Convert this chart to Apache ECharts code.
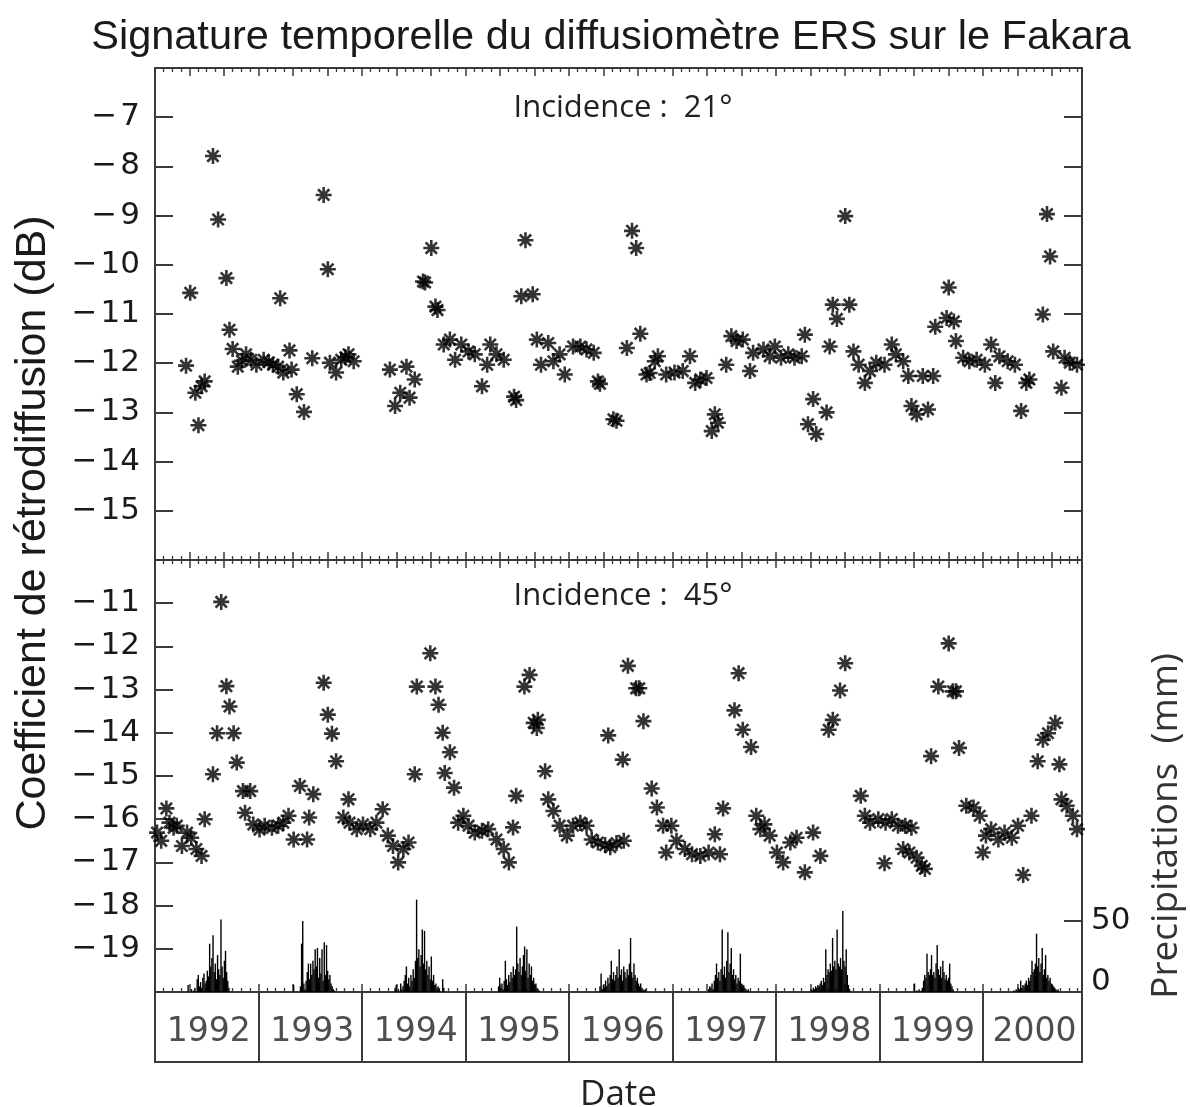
<!DOCTYPE html>
<html>
<head>
<meta charset="utf-8">
<title>Signature temporelle du diffusiomètre ERS sur le Fakara</title>
<script src="https://cdn.jsdelivr.net/npm/echarts@6/dist/echarts.min.js"></script>
<style>
  html, body { margin: 0; padding: 0; background: #fff; }
  #chart { width: 1190px; height: 1107px; }
</style>
</head>
<body>
<div id="chart"></div>
<script>
// ERS scatterometer backscatter over Fakara, [decimal year, dB]
const sigma21 = [
  [1992.30,-12.05],[1992.34,-10.57],[1992.39,-12.60],[1992.42,-13.26],[1992.45,-12.47],
  [1992.48,-12.37],[1992.56,-7.79],[1992.61,-9.08],[1992.69,-10.27],[1992.72,-11.32],
  [1992.75,-11.71],[1992.80,-12.07],[1992.84,-11.95],[1992.88,-11.82],[1992.93,-11.93],
  [1992.98,-12.03],[1993.05,-11.93],[1993.10,-11.98],[1993.14,-12.03],[1993.19,-12.07],
  [1993.21,-10.68],[1993.24,-12.19],[1993.30,-11.74],[1993.32,-12.13],[1993.37,-12.63],
  [1993.44,-12.99],[1993.52,-11.90],[1993.63,-8.58],[1993.67,-10.09],[1993.69,-11.99],
  [1993.75,-12.19],[1993.80,-11.93],[1993.84,-11.88],[1993.87,-11.82],[1993.92,-11.96],
  [1994.27,-12.13],[1994.32,-12.87],[1994.37,-12.60],[1994.43,-12.07],[1994.46,-12.70],
  [1994.51,-12.33],[1994.59,-10.34],[1994.61,-10.36],[1994.67,-9.66],[1994.71,-10.85],
  [1994.73,-10.92],[1994.79,-11.62],[1994.85,-11.52],[1994.90,-11.93],[1994.96,-11.62],
  [1995.03,-11.76],[1995.09,-11.82],[1995.16,-12.47],[1995.21,-12.03],[1995.24,-11.62],
  [1995.30,-11.82],[1995.37,-11.93],[1995.47,-12.68],[1995.49,-12.75],[1995.54,-10.64],
  [1995.58,-9.50],[1995.65,-10.60],[1995.69,-11.52],[1995.73,-12.03],[1995.80,-11.59],
  [1995.85,-11.96],[1995.91,-11.82],[1995.96,-12.23],[1996.04,-11.66],[1996.11,-11.66],
  [1996.17,-11.72],[1996.24,-11.79],[1996.28,-12.37],[1996.30,-12.42],[1996.43,-13.14],
  [1996.46,-13.17],[1996.56,-11.69],[1996.61,-9.31],[1996.65,-9.66],[1996.69,-11.40],
  [1996.75,-12.23],[1996.78,-12.20],[1996.83,-11.96],[1996.86,-11.86],[1996.94,-12.23],
  [1997.02,-12.19],[1997.10,-12.16],[1997.17,-11.86],[1997.22,-12.40],[1997.27,-12.33],
  [1997.33,-12.30],[1997.38,-13.38],[1997.41,-13.04],[1997.44,-13.21],[1997.52,-12.03],
  [1997.57,-11.45],[1997.62,-11.55],[1997.68,-11.52],[1997.75,-12.16],[1997.78,-11.79],
  [1997.88,-11.72],[1997.94,-11.86],[1997.99,-11.66],[1998.05,-11.89],[1998.12,-11.82],
  [1998.18,-11.89],[1998.25,-11.86],[1998.28,-11.42],[1998.31,-13.24],[1998.36,-12.73],
  [1998.39,-13.44],[1998.49,-13.00],[1998.52,-11.66],[1998.55,-10.81],[1998.59,-11.10],
  [1998.67,-9.01],[1998.71,-10.81],[1998.75,-11.76],[1998.80,-12.03],[1998.86,-12.40],
  [1998.91,-12.16],[1998.97,-11.99],[1999.05,-12.03],[1999.12,-11.62],[1999.16,-11.82],
  [1999.23,-11.96],[1999.28,-12.26],[1999.31,-12.87],[1999.36,-13.04],[1999.42,-12.26],
  [1999.47,-12.94],[1999.52,-12.26],[1999.54,-11.26],[1999.65,-11.08],[1999.67,-10.46],
  [1999.72,-11.15],[1999.74,-11.55],[1999.81,-11.89],[1999.87,-11.96],[1999.94,-11.93],
  [2000.02,-12.03],[2000.08,-11.62],[2000.12,-12.40],[2000.16,-11.86],[2000.24,-11.96],
  [2000.31,-12.03],[2000.37,-12.97],[2000.42,-12.40],[2000.45,-12.33],[2000.58,-11.01],
  [2000.62,-8.97],[2000.65,-9.83],[2000.68,-11.76],[2000.76,-12.50],[2000.79,-11.89],
  [2000.84,-11.99],[2000.91,-12.03]
];

const sigma45 = [
  [1992.02,-16.31],[1992.06,-16.50],[1992.11,-15.75],[1992.14,-16.08],[1992.18,-16.20],
  [1992.21,-16.15],[1992.26,-16.62],[1992.31,-16.31],[1992.35,-16.43],[1992.40,-16.69],
  [1992.45,-16.85],[1992.48,-16.00],[1992.56,-14.96],[1992.60,-14.01],[1992.64,-10.97],
  [1992.69,-12.92],[1992.72,-13.39],[1992.76,-14.01],[1992.79,-14.69],[1992.85,-15.35],
  [1992.87,-15.85],[1992.92,-15.35],[1992.95,-16.12],[1993.01,-16.24],[1993.06,-16.15],
  [1993.13,-16.20],[1993.19,-16.15],[1993.24,-16.08],[1993.29,-15.92],[1993.34,-16.47],
  [1993.40,-15.23],[1993.47,-16.47],[1993.49,-15.96],[1993.53,-15.42],[1993.63,-12.84],
  [1993.67,-13.58],[1993.71,-14.02],[1993.75,-14.66],[1993.82,-15.96],[1993.87,-15.54],
  [1993.88,-16.08],[1993.95,-16.23],[1994.01,-16.12],[1994.08,-16.23],[1994.14,-16.08],
  [1994.20,-15.77],[1994.25,-16.38],[1994.30,-16.62],[1994.35,-17.00],[1994.40,-16.69],
  [1994.45,-16.54],[1994.51,-14.96],[1994.53,-12.93],[1994.66,-12.16],[1994.71,-12.93],
  [1994.74,-13.35],[1994.78,-14.00],[1994.80,-14.93],[1994.85,-14.45],[1994.89,-15.27],
  [1994.93,-16.08],[1994.98,-15.92],[1995.03,-16.15],[1995.09,-16.31],[1995.16,-16.27],
  [1995.22,-16.23],[1995.30,-16.47],[1995.37,-16.69],[1995.42,-17.00],[1995.46,-16.19],
  [1995.49,-15.46],[1995.57,-12.93],[1995.62,-12.66],[1995.66,-13.77],[1995.69,-13.89],
  [1995.70,-13.70],[1995.77,-14.89],[1995.80,-15.54],[1995.85,-15.81],[1995.91,-16.15],
  [1995.98,-16.38],[1996.04,-16.15],[1996.11,-16.08],[1996.17,-16.15],[1996.22,-16.47],
  [1996.28,-16.54],[1996.35,-16.60],[1996.38,-14.06],[1996.40,-16.65],[1996.46,-16.55],
  [1996.52,-14.62],[1996.53,-16.50],[1996.57,-12.45],[1996.65,-12.97],[1996.68,-12.97],
  [1996.72,-13.73],[1996.80,-15.29],[1996.85,-15.73],[1996.91,-16.15],[1996.94,-16.77],
  [1996.99,-16.15],[1997.04,-16.50],[1997.12,-16.69],[1997.19,-16.81],[1997.27,-16.85],
  [1997.35,-16.77],[1997.41,-16.35],[1997.46,-16.81],[1997.49,-15.75],[1997.60,-13.48],
  [1997.64,-12.62],[1997.68,-13.93],[1997.76,-14.33],[1997.81,-15.92],[1997.85,-16.23],
  [1997.89,-16.12],[1997.94,-16.38],[1998.01,-16.77],[1998.07,-17.00],[1998.14,-16.54],
  [1998.20,-16.43],[1998.28,-17.23],[1998.36,-16.31],[1998.43,-16.85],[1998.51,-13.93],
  [1998.55,-13.70],[1998.62,-13.02],[1998.67,-12.39],[1998.82,-15.46],[1998.86,-15.92],
  [1998.91,-16.08],[1998.99,-16.00],[1999.05,-17.02],[1999.06,-16.08],[1999.12,-16.00],
  [1999.18,-16.15],[1999.23,-16.69],[1999.25,-16.15],[1999.29,-16.77],[1999.31,-16.20],
  [1999.36,-16.89],[1999.41,-17.08],[1999.44,-17.15],[1999.50,-14.54],[1999.57,-12.93],
  [1999.67,-11.93],[1999.71,-13.04],[1999.74,-13.04],[1999.77,-14.35],[1999.84,-15.69],
  [1999.91,-15.73],[1999.97,-15.92],[2000.00,-16.77],[2000.03,-16.38],[2000.08,-16.23],
  [2000.15,-16.47],[2000.21,-16.31],[2000.28,-16.43],[2000.34,-16.15],[2000.39,-17.29],
  [2000.47,-15.92],[2000.53,-14.66],[2000.58,-14.16],[2000.63,-14.01],[2000.70,-13.77],
  [2000.74,-14.73],[2000.76,-15.54],[2000.81,-15.69],[2000.87,-15.92],[2000.91,-16.23]
];

// Rainfall (mm), sampled every 4 days from the start of each rainy season
const RAIN_STEP_DAYS = 4;
const rainStart = [1992.32, 1993.34, 1994.32, 1995.32, 1996.30, 1997.35, 1998.34, 1999.34, 2000.30];
const rain1992 = [5,0,0,2,0,1,3,0,9,12,4,7,3,10,13,6,8,15,11,34,18,24,40,14,20,9,26,16,12,51,18,10,22,29,14,8,3];
const rain1993 = [5,0,0,0,0,0,4,34,50,6,2,8,14,20,9,20,12,22,16,30,18,31,10,24,13,30,8,35,12,33,15,9,12,6,4,2,1];
const rain1994 = [3,5,0,2,0,6,2,4,8,12,18,6,10,4,12,8,16,10,22,65,24,30,18,26,44,20,43,16,22,12,18,9,25,8,12,5,6,3,4,2,0,0,9,3];
const rain1995 = [4,10,3,6,2,8,22,9,5,12,7,14,10,18,12,16,46,20,14,24,12,18,26,32,15,30,10,20,12,18,8,10,5,6,3,2,1];
const rain1996 = [4,13,2,5,3,8,4,10,6,12,22,9,14,8,12,18,10,30,12,16,8,18,14,10,16,12,20,38,14,10,20,12,8,10,6,4,6,3,2,1,2,0];
const rain1997 = [2,4,3,6,2,8,12,20,10,14,8,16,44,12,18,10,22,42,14,20,31,12,16,9,12,6,10,8,27,6,4,5,3,2,1,2,0];
const rain1998 = [2,1,3,2,4,3,5,4,6,8,5,10,7,30,12,16,14,20,15,38,18,22,16,44,20,18,24,16,57,22,18,30,12,5,2];
const rain1999 = [6,0,1,0,2,0,1,3,8,12,10,27,14,12,16,26,12,14,10,20,33,16,12,18,10,22,14,9,12,8,10,20,6,4,2];
const rain2000 = [1,0,2,1,3,2,8,3,5,4,6,8,5,10,8,12,22,14,16,20,41,18,24,14,20,31,12,16,26,10,12,8,10,6,5,4,3,2,1,2];
const rainSeasons = [rain1992, rain1993, rain1994, rain1995, rain1996, rain1997, rain1998, rain1999, rain2000];

// Year boxes under the time axis
const yearLabels = ['1992','1993','1994','1995','1996','1997','1998','1999','2000'];
const precipTicks = [0, 50];

// Time axis runs in months since January 1992
const X_MAX = 107.5;
const toMonth = y => (y - 1992) * 12;

const AXIS = '#3a3a3a';
const TXT = '#1a1a1a';
const TICK_FONT = 'DejaVu Sans';
const STAR = 'path://M0 5L10 5M5 0L5 10M1.46 1.46L8.54 8.54M8.54 1.46L1.46 8.54';

const rainData = [];
rainSeasons.forEach((vals, k) => {
  vals.forEach((mm, i) => {
    rainData.push([toMonth(rainStart[k] + i * RAIN_STEP_DAYS / 365.25), mm]);
  });
});

const yearData = yearLabels.map(lbl => {
  const a = (Number(lbl) - 1992) * 12;
  const b = Math.min(a + 12, X_MAX);
  return [(a + b) / 2, 0.5, lbl];
});

function timeAxis(gridIndex, position) {
  return {
    type: 'value', gridIndex, position, min: 0, max: X_MAX, interval: 4,
    axisLine: { show: true, onZero: false, lineStyle: { color: AXIS, width: 2 } },
    axisTick: { show: true, inside: true, length: 8, lineStyle: { color: AXIS, width: 1.5 } },
    minorTick: { show: true, splitNumber: 4, length: 4, lineStyle: { color: AXIS, width: 1.3 } },
    axisLabel: { show: false },
    splitLine: { show: false }
  };
}

function dbAxis(gridIndex, position, min, max, withLabels) {
  return {
    type: 'value', gridIndex, position, min, max, interval: 1,
    axisLine: { show: true, onZero: false, lineStyle: { color: AXIS, width: 2 } },
    axisTick: { show: true, inside: true, length: 18, lineStyle: { color: AXIS, width: 2 } },
    axisLabel: {
      show: withLabels, margin: 15, color: TXT, fontFamily: TICK_FONT, fontSize: 31,
      formatter: v => (v === min || v === max) ? '' : (v < 0 ? '\u2212\u200A' + Math.abs(v) : String(v))
    },
    splitLine: { show: false }
  };
}

const chart = echarts.init(document.getElementById('chart'), null, { renderer: 'canvas' });

chart.setOption({
  backgroundColor: '#ffffff',
  animation: false,
  title: {
    text: 'Signature temporelle du diffusiomètre ERS sur le Fakara',
    left: 606, top: 12, textAlign: 'center',
    textStyle: { fontFamily: 'Liberation Sans', fontWeight: 'normal', fontSize: 41.5, color: TXT }
  },
  grid: [
    { left: 155, top: 68, width: 927, height: 492, outerBoundsMode: 'none', containLabel: false },
    { left: 155, top: 560, width: 927, height: 432, outerBoundsMode: 'none', containLabel: false },
    { left: 155, top: 992, width: 927, height: 70, outerBoundsMode: 'none', containLabel: false,
      show: true, borderColor: AXIS, borderWidth: 2 }
  ],
  xAxis: [
    timeAxis(0, 'bottom'),
    timeAxis(0, 'top'),
    timeAxis(1, 'bottom'),
    timeAxis(1, 'top'),
    {
      type: 'value', gridIndex: 2, position: 'bottom', min: 0, max: X_MAX, interval: 12,
      axisLine: { show: false }, axisTick: { show: false }, axisLabel: { show: false },
      splitLine: { show: true, lineStyle: { color: AXIS, width: 2 } },
      name: 'Date', nameLocation: 'middle', nameGap: 16,
      nameTextStyle: { fontFamily: 'Open Sans', fontSize: 35, color: '#222' }
    }
  ],
  yAxis: [
    dbAxis(0, 'left', -16, -6, true),
    dbAxis(0, 'right', -16, -6, false),
    dbAxis(1, 'left', -20, -10, true),
    {
      type: 'value', gridIndex: 1, position: 'right', min: 0, max: 304,
      axisLine: { show: true, onZero: false, lineStyle: { color: AXIS, width: 2 } },
      axisTick: { show: true, inside: true, length: 18, customValues: precipTicks, lineStyle: { color: AXIS, width: 2 } },
      axisLabel: {
        show: true, margin: 9, customValues: precipTicks, color: TXT, fontFamily: TICK_FONT, fontSize: 31,
        formatter: v => v === 0 ? '{z|0}' : String(v),
        rich: { z: { fontFamily: TICK_FONT, fontSize: 31, color: TXT, padding: [0, 0, 20, 0] } }
      },
      splitLine: { show: false }
    },
    { type: 'value', gridIndex: 2, min: 0, max: 1, show: false }
  ],
  graphic: [
    {
      type: 'text', x: 33, y: 523, rotation: Math.PI / 2,
      style: {
        text: 'Coefficient de rétrodiffusion (dB)', fill: TXT,
        font: '43px "Liberation Sans"', align: 'center', verticalAlign: 'middle'
      }
    },
    {
      type: 'text', x: 1166, y: 826, rotation: Math.PI / 2,
      style: {
        text: 'Precipitations  (mm)', fill: '#333',
        font: '37px "Open Sans"', align: 'center', verticalAlign: 'middle'
      }
    },
    {
      type: 'text', x: 623, y: 108,
      style: {
        text: 'Incidence :  21°', fill: '#222',
        font: '31px "Open Sans"', align: 'center', verticalAlign: 'middle'
      }
    },
    {
      type: 'text', x: 623, y: 596,
      style: {
        text: 'Incidence :  45°', fill: '#222',
        font: '31px "Open Sans"', align: 'center', verticalAlign: 'middle'
      }
    }
  ],
  series: [
    {
      name: 'Incidence 21°', type: 'scatter', xAxisIndex: 0, yAxisIndex: 0,
      symbol: STAR, symbolSize: 16,
      itemStyle: { color: '#000', borderColor: '#000', borderWidth: 2.6 },
      data: sigma21.map(d => [toMonth(d[0]), d[1]])
    },
    {
      name: 'Incidence 45°', type: 'scatter', xAxisIndex: 2, yAxisIndex: 2,
      symbol: STAR, symbolSize: 16,
      itemStyle: { color: '#000', borderColor: '#000', borderWidth: 2.6 },
      data: sigma45.map(d => [toMonth(d[0]), d[1]])
    },
    {
      name: 'Précipitations', type: 'bar', xAxisIndex: 2, yAxisIndex: 3,
      barWidth: 1.4, itemStyle: { color: '#000' },
      data: rainData
    },
    {
      name: 'Années', type: 'scatter', xAxisIndex: 4, yAxisIndex: 4,
      symbolSize: 0, silent: true,
      label: {
        show: true, position: 'inside', offset: [2, 5],
        formatter: p => p.data[2],
        fontFamily: TICK_FONT, fontSize: 33, color: '#222'
      },
      data: yearData
    }
  ]
});
</script>
</body>
</html>
